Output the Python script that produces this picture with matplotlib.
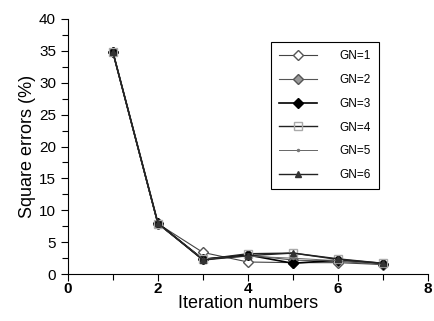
import matplotlib
matplotlib.use("Agg")
import matplotlib.pyplot as plt
from matplotlib.ticker import MultipleLocator

plt.rcParams['font.family'] = ['Liberation Sans', 'DejaVu Sans']

# data
iterations = [1, 2, 3, 4, 5, 6, 7]
gn1 = [34.8, 7.9, 3.4, 1.9, 1.8, 1.8, 1.5]
gn2 = [34.8, 7.9, 2.4, 3.0, 2.2, 2.0, 1.6]
gn3 = [34.8, 8.0, 2.3, 3.0, 1.7, 2.2, 1.6]
gn4 = [34.8, 7.9, 2.3, 3.2, 3.3, 2.3, 1.7]
gn5 = [34.8, 7.9, 2.3, 2.8, 2.5, 2.1, 1.5]
gn6 = [34.8, 8.0, 2.2, 2.9, 3.3, 2.4, 1.7]
labels = ["GN=1", "GN=2", "GN=3", "GN=4", "GN=5", "GN=6"]

fig = plt.figure(figsize=(4.35, 3.21), dpi=100)
ax = fig.add_axes([0.156, 0.146, 0.828, 0.795])

styles = [
    dict(marker="D", ms=5, mfc="white", mec="#555555", color="#444444", lw=0.8),
    dict(marker="D", ms=5, mfc="#999999", mec="#555555", color="#555555", lw=0.8),
    dict(marker="D", ms=5, mfc="black", mec="black", color="black", lw=1.2),
    dict(marker="s", ms=6, mfc="none", mec="#aaaaaa", color="#222222", lw=1.0),
    dict(marker=".", ms=3, mfc="#777777", mec="#777777", color="#666666", lw=0.7),
    dict(marker="^", ms=5, mfc="#333333", mec="#333333", color="#222222", lw=1.0),
]
for ys, lab, st in zip([gn1, gn2, gn3, gn4, gn5, gn6], labels, styles):
    ax.plot(iterations, ys, label=lab, **st)

ax.set_xlim(0, 8)
ax.set_ylim(0, 40)
ax.xaxis.set_major_locator(MultipleLocator(2))
ax.xaxis.set_minor_locator(MultipleLocator(1))
ax.yaxis.set_major_locator(MultipleLocator(5))
ax.yaxis.set_minor_locator(MultipleLocator(2.5))
ax.spines['top'].set_visible(False)
ax.spines['right'].set_visible(False)
ax.tick_params(which='both', direction='out', width=0.8)
ax.tick_params(which='major', length=5, labelsize=11)
ax.tick_params(which='minor', length=4)
ax.tick_params(axis='x', which='major', pad=1)
for t in ax.get_xticklabels():
    t.set_fontweight('bold')

ax.set_xlabel("Iteration numbers", fontsize=13, labelpad=-1)
ax.set_ylabel("Square errors (%)", fontsize=13, labelpad=2)

leg = ax.legend(loc="upper left", bbox_to_anchor=(0.564, 0.91), fontsize=8.5,
                fancybox=False, edgecolor="black", framealpha=1,
                handlelength=3.2, handletextpad=1.9, labelspacing=1.0,
                borderpad=0.7, borderaxespad=0)
leg.get_frame().set_linewidth(0.8)

fig.savefig("out.png", dpi=100)
